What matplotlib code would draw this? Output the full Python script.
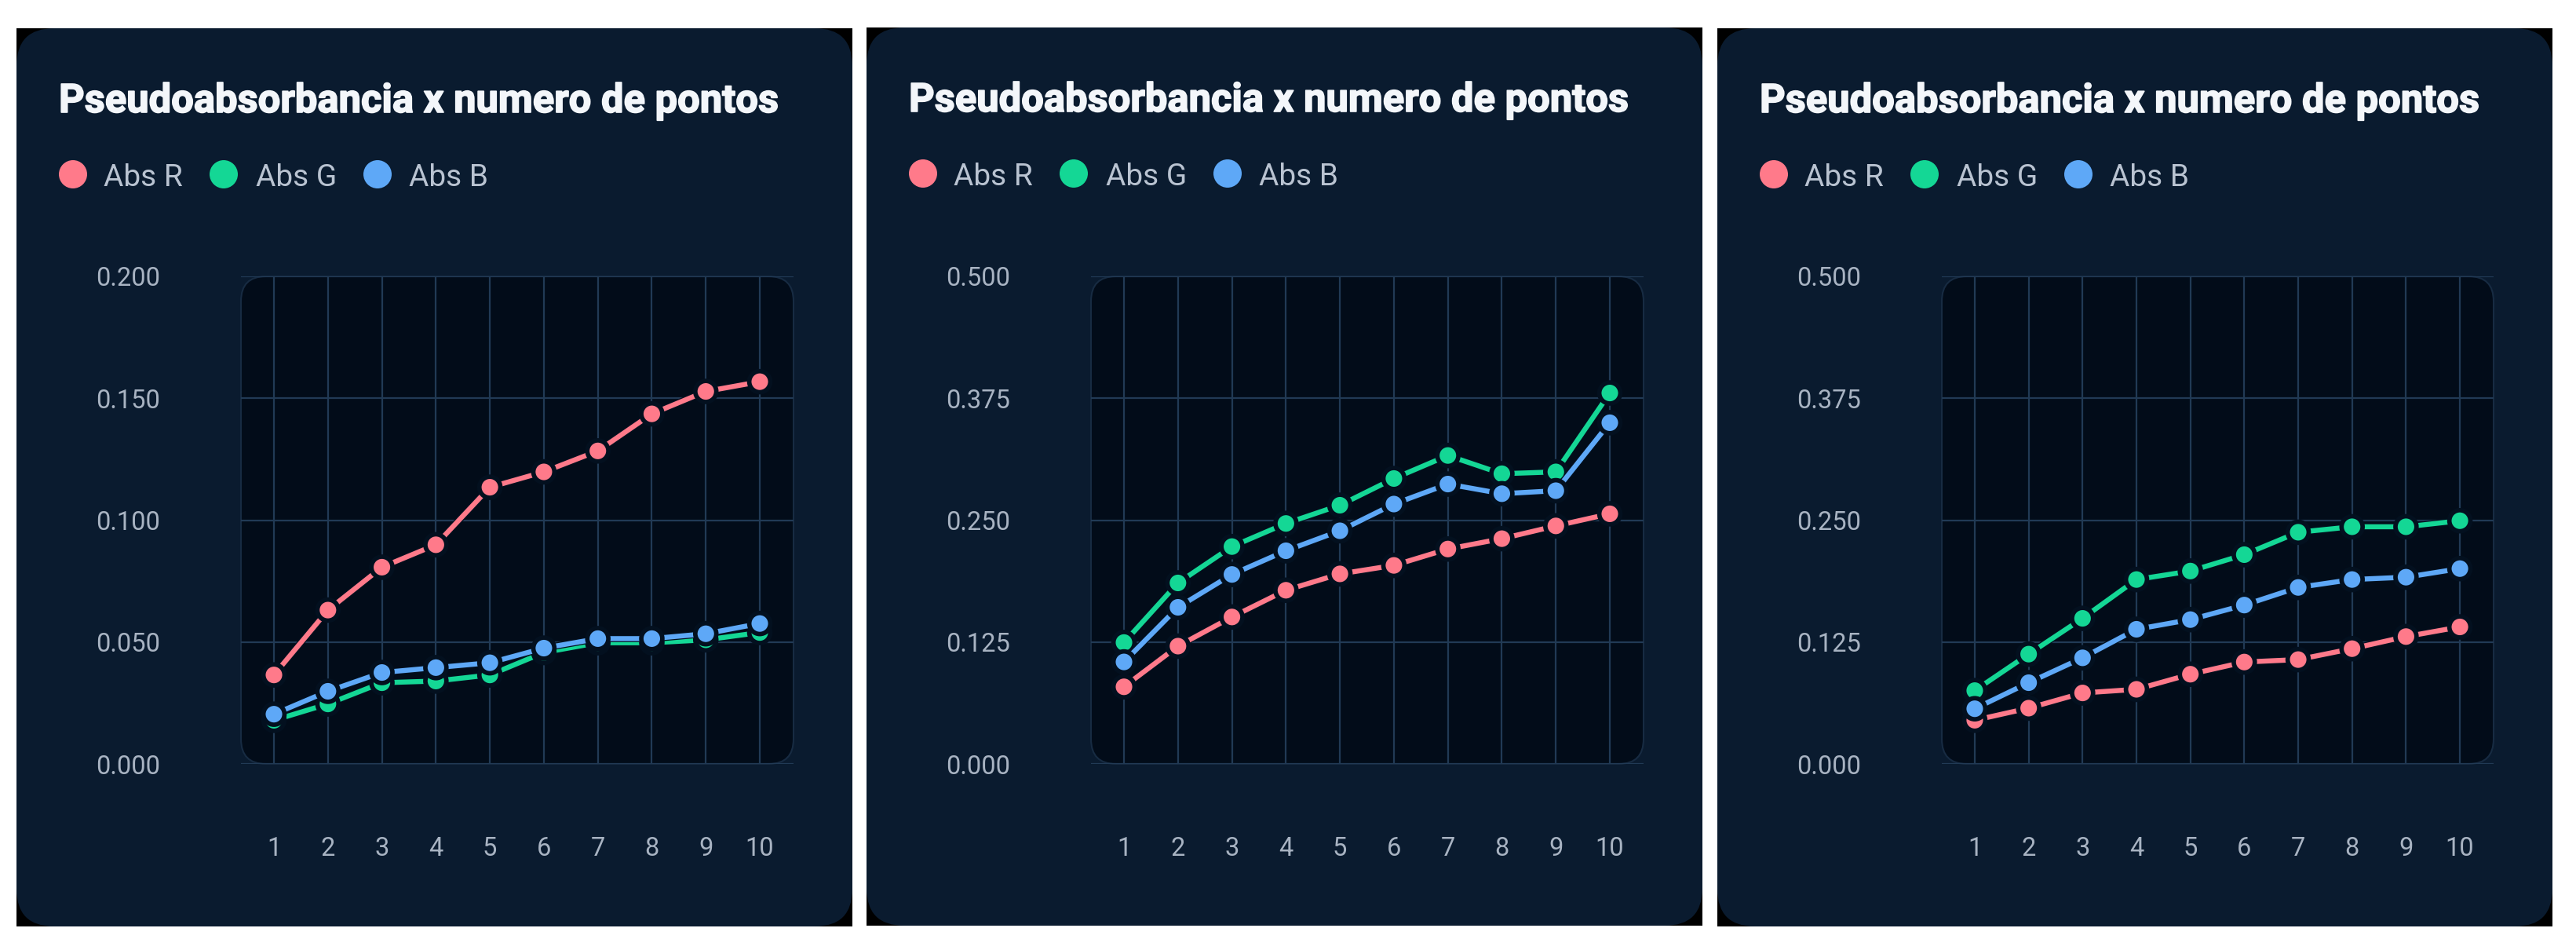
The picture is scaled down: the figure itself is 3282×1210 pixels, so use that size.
import matplotlib
matplotlib.use("Agg")
import matplotlib.pyplot as plt
from matplotlib.patches import FancyBboxPatch, Circle, Rectangle
import matplotlib.patheffects as pe

plt.rcParams['font.family'] = ['Roboto', 'DejaVu Sans']

# ---------------- data ----------------
x_points = [1, 2, 3, 4, 5, 6, 7, 8, 9, 10]
title_text = "Pseudoabsorbancia x numero de pontos"
series_names = ["Abs R", "Abs G", "Abs B"]

p1_R = [0.0365, 0.0631, 0.0807, 0.0899, 0.1135, 0.1198, 0.1284, 0.1436, 0.1528, 0.1568]
p1_G = [0.0179, 0.0246, 0.0333, 0.0340, 0.0365, 0.0457, 0.0497, 0.0497, 0.0509, 0.0539]
p1_B = [0.0204, 0.0298, 0.0375, 0.0395, 0.0415, 0.0475, 0.0514, 0.0514, 0.0534, 0.0576]

p2_R = [0.0791, 0.1208, 0.1507, 0.1781, 0.1949, 0.2036, 0.2204, 0.2310, 0.2441, 0.2565]
p2_G = [0.1245, 0.1856, 0.2229, 0.2466, 0.2653, 0.2927, 0.3163, 0.2976, 0.2995, 0.3804]
p2_B = [0.1046, 0.1606, 0.1943, 0.2186, 0.2391, 0.2665, 0.2870, 0.2771, 0.2802, 0.3499]

p3_R = [0.0448, 0.0572, 0.0728, 0.0765, 0.0920, 0.1045, 0.1070, 0.1182, 0.1306, 0.1405]
p3_G = [0.0752, 0.1126, 0.1493, 0.1891, 0.1978, 0.2146, 0.2376, 0.2432, 0.2432, 0.2494]
p3_B = [0.0566, 0.0833, 0.1088, 0.1381, 0.1480, 0.1629, 0.1810, 0.1891, 0.1915, 0.2003]

p1_yticks = [0.0, 0.05, 0.10, 0.15, 0.20]
p1_ylabels = ["0.000", "0.050", "0.100", "0.150", "0.200"]
p23_yticks = [0.0, 0.125, 0.25, 0.375, 0.5]
p23_ylabels = ["0.000", "0.125", "0.250", "0.375", "0.500"]

panels = [
    (p1_R, p1_G, p1_B, p1_yticks, p1_ylabels),
    (p2_R, p2_G, p2_B, p23_yticks, p23_ylabels),
    (p3_R, p3_G, p3_B, p23_yticks, p23_ylabels),
]

# ---------------- style ----------------
W, H = 3282, 1210
DPI = 100
C_R, C_G, C_B = "#ff7a8a", "#14d795", "#5ea8f7"
colors = [C_R, C_G, C_B]
CARD = "#0a1b2f"
PLOT_BG = "#020c19"
GRID = "#213a55"
TITLE_C = "#f3f6fa"
LEG_C = "#b9c3d1"
TICK_C = "#a8b3c2"
EDGE = "#03101f"

cards = [(21, 1086, 36, 1180), (1104, 2169, 35, 1179), (2188, 3252, 36, 1180)]

fig = plt.figure(figsize=(W / DPI, H / DPI), dpi=DPI, facecolor="white")
bg = fig.add_axes([0, 0, 1, 1], zorder=0)
bg.set_xlim(0, W)
bg.set_ylim(H, 0)
bg.axis("off")

for (L, R, T, B), (r, g, b, yt, yl) in zip(cards, panels):
    # screenshot frame and rounded card
    bg.add_patch(Rectangle((L, T), R - L, B - T, facecolor="#000000", edgecolor="none"))
    pad = 48
    bg.add_patch(FancyBboxPatch((L + pad, T + pad), (R - L) - 2 * pad, (B - T) - 2 * pad,
                                boxstyle=f"round,pad={pad}", facecolor=CARD, edgecolor="none"))
    # title
    bg.text(L + 54, T + 107, title_text, color=TITLE_C, fontsize=36.5, fontweight="bold",
            va="baseline", ha="left",
            path_effects=[pe.withStroke(linewidth=1.2, foreground=TITLE_C)])
    # legend
    circ_x = [72, 264, 460]
    text_x = [111, 305, 500]
    for cx, tx, col, name in zip(circ_x, text_x, colors, series_names):
        bg.add_patch(Circle((L + cx, T + 186), 18, facecolor=col, edgecolor="none"))
        bg.text(L + tx, T + 201, name, color=LEG_C, fontsize=28, va="baseline", ha="left")

    # plot axes
    pl, pr, ptop, pbot = L + 286, R - 75, 352, 973
    ax = fig.add_axes([pl / W, 1 - pbot / H, (pr - pl) / W, (pbot - ptop) / H], zorder=2)
    ax.set_facecolor("none")
    ax.add_patch(FancyBboxPatch((0.0, 0.0), 1.0, 1.0, transform=ax.transAxes,
                                boxstyle="round,pad=0,rounding_size=0.045",
                                mutation_aspect=(pr - pl) / (pbot - ptop),
                                facecolor=PLOT_BG, edgecolor="#172b42", linewidth=1.5,
                                zorder=0, clip_on=False))
    ax.set_xlim(0.389, 10.625)
    ax.set_ylim(yt[0], yt[-1])
    ax.set_xticks(x_points)
    ax.set_xticklabels([str(v) for v in x_points])
    ax.set_yticks(yt)
    ax.set_yticklabels(yl)
    ax.grid(True, color=GRID, linewidth=1.6, zorder=1)
    ax.set_axisbelow(True)
    for s in ax.spines.values():
        s.set_visible(False)
    ax.tick_params(axis="both", length=0, labelsize=23.5, labelcolor=TICK_C)
    ax.tick_params(axis="x", pad=66)
    ax.tick_params(axis="y", pad=74)

    for vals, col in zip([r, g, b], colors):
        ax.plot(x_points, vals, color=col, linewidth=4.6, marker="o", markersize=17,
                markerfacecolor=col, markeredgecolor=EDGE, markeredgewidth=1.8,
                solid_capstyle="butt", zorder=3, clip_on=False,
                path_effects=[pe.Stroke(linewidth=6.4, foreground=EDGE), pe.Normal()])

fig.savefig("out.png", dpi=DPI, facecolor="white")
